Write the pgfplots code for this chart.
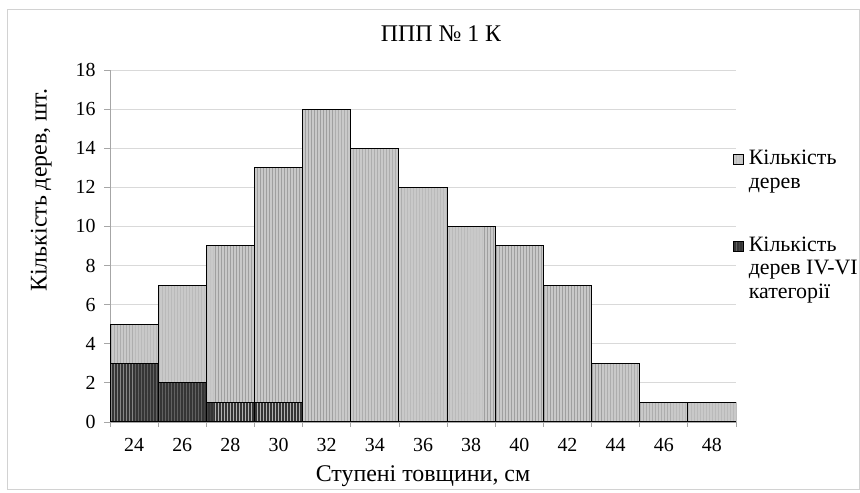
\documentclass[border=0pt]{standalone}
\usepackage{fontspec}
\setmainfont{Liberation Serif}
\usepackage{pgfplots}
\pgfplotsset{compat=1.18}
\usetikzlibrary{patterns}
\definecolor{lightbar}{HTML}{C9C9C9}
\definecolor{darkbar}{HTML}{353535}
\definecolor{gridc}{HTML}{D9D9D9}
\begin{document}
\begin{tikzpicture}[x=1bp,y=1bp]
\path[use as bounding box] (0,0) rectangle (860,493);
\draw[gray!35, line width=1bp] (7,3) rectangle (859,483);
\begin{axis}[
  at={(110bp,71bp)}, anchor=south west,
  scale only axis, width=626bp, height=352bp,
  ybar, bar width=1,
  xmin=-0.5, xmax=12.5, ymin=0, ymax=18,
  xtick={0,...,12},
  xticklabels={24,26,28,30,32,34,36,38,40,42,44,46,48},
  minor xtick={-0.5,0.5,...,12.5},
  major x tick style={draw=none},
  minor tick length=5bp,
  major tick length=6bp,
  tick align=outside,
  ytick={0,2,...,18},
  ytick style={gray!70, line width=0.8bp},
  ymajorgrids, major grid style={gridc, line width=0.8bp},
  axis x line*=bottom, axis y line*=left,
  y axis line style={gray!70, line width=0.8bp},
  x axis line style={gray!70, line width=0.8bp},
  every minor tick/.style={gray!70, line width=0.8bp},
  tick label style={font=\fontsize{20}{22}\selectfont},
  /pgf/number format/assume math mode=true,
  xticklabel style={yshift=-7bp},
  yticklabel style={xshift=-5bp},
  title={ППП № 1 К},
  title style={font=\fontsize{24}{26}\selectfont, at={(axis description cs:0.5,1)}, anchor=center, yshift=30bp, xshift=18bp},
  xlabel={Ступені товщини, см},
  xlabel style={font=\fontsize{24}{26}\selectfont, at={(axis description cs:0.5,-0.153)}, anchor=center},
  ylabel={Кількість дерев, шт.},
  ylabel style={font=\fontsize{24}{26}\selectfont, at={(axis description cs:-0.11,0.659)}, anchor=center},
  legend style={at={(axis description cs:0.99,0.79)}, anchor=north west, draw=none, fill=none,
    font=\fontsize{22}{24}\selectfont, cells={anchor=base west}, row sep=64bp},
  legend image code/.code={\draw[#1, line width=0.8bp] (2bp,0bp) rectangle (12bp,10bp); \path (15bp,0bp);},
]
\addplot[bar shift=0pt, draw=black, line width=1bp, fill=lightbar,
  postaction={pattern=vertical lines, pattern color=gray!75}]
  coordinates {(0,5) (1,7) (2,9) (3,13) (4,16) (5,14) (6,12) (7,10) (8,9) (9,7) (10,3) (11,1) (12,1)};
\addlegendentry{\begin{tabular}[t]{@{}l@{}}Кількість\\дерев\end{tabular}}
\addplot[bar shift=0pt, draw=black, line width=1bp, fill=darkbar,
  postaction={pattern=vertical lines, pattern color=gray!60}]
  coordinates {(0,3) (1,2) (2,1) (3,1)};
\addlegendentry{\begin{tabular}[t]{@{}l@{}}Кількість\\дерев IV-VI\\категорії\end{tabular}}
\end{axis}
\end{tikzpicture}
\end{document}
